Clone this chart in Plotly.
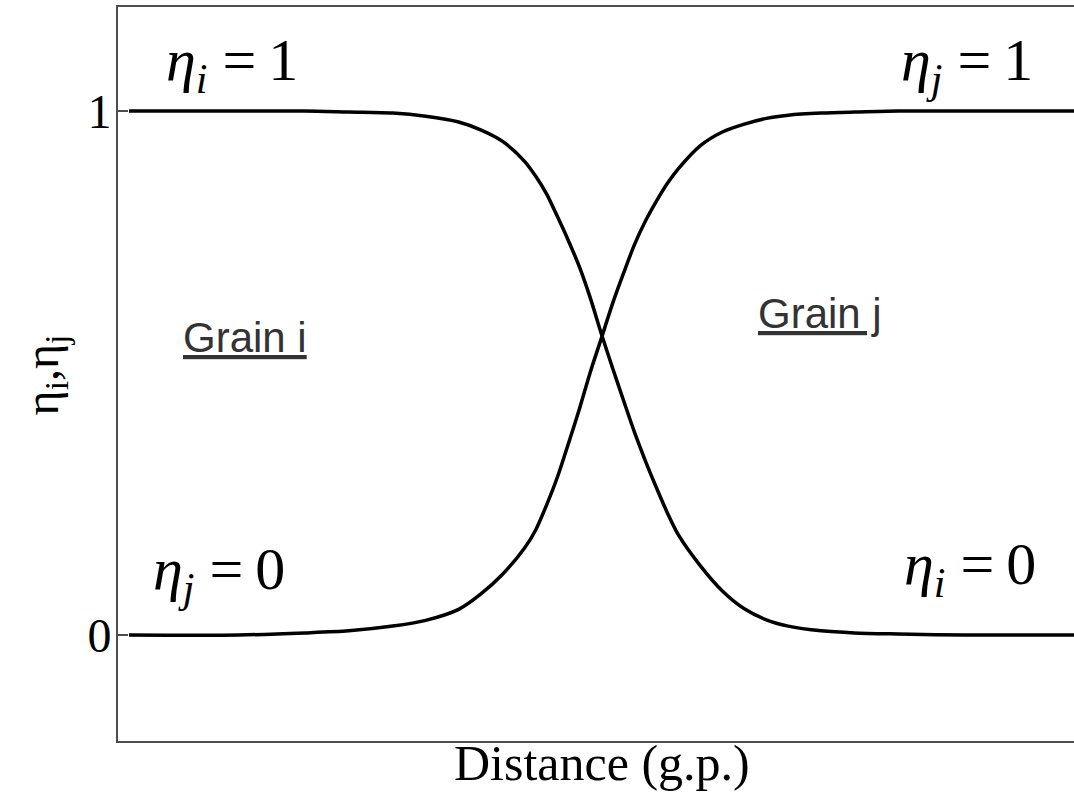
import plotly.graph_objects as go

# Order-parameter profiles across a grain boundary (distance in grid points)
distance = [0, 10, 16, 20, 24, 27, 30, 32, 34, 36, 37, 38, 39, 40, 41, 42, 43,
            44, 45, 46, 47, 48, 49, 50, 52, 54, 56, 58, 60, 63, 66, 70, 76, 86]

eta_i = [1.0, 1.0, 1.0, 0.998, 0.996, 0.990, 0.979, 0.964, 0.942, 0.904, 0.876,
         0.842, 0.798, 0.752, 0.702, 0.642, 0.574, 0.510, 0.448, 0.387, 0.332,
         0.281, 0.233, 0.191, 0.132, 0.084, 0.050, 0.029, 0.017, 0.008, 0.004,
         0.002, 0.0, 0.0]

eta_j = [0.0, 0.0, 0.004, 0.008, 0.017, 0.028, 0.049, 0.078, 0.116, 0.166, 0.200,
         0.248, 0.302, 0.366, 0.432, 0.503, 0.567, 0.632, 0.690, 0.745, 0.790,
         0.828, 0.862, 0.890, 0.934, 0.960, 0.975, 0.986, 0.992, 0.996, 0.998,
         1.0, 1.0, 1.0]

y_ticks = [0, 1]
y_ticktext = ["0", "1"]

SERIF = "Times New Roman, Liberation Serif, serif"
SANS = "Arial, Liberation Sans, sans-serif"
THIN = "\u2009"

fig = go.Figure()
for name, vals in (("η_i", eta_i), ("η_j", eta_j)):
    fig.add_trace(go.Scatter(
        x=distance, y=vals, mode="lines", name=name,
        line=dict(color="black", width=3.5, shape="spline", smoothing=0.8),
        showlegend=False, hoverinfo="skip",
    ))

# Phase labels
labels = [
    (9.4, 1.088, "<i>η</i><sub><i>i</i></sub> =" + THIN + "1"),
    (76.3, 1.088, "<i>η</i><sub><i>j</i></sub> =" + THIN + "1"),
    (8.2, 0.118, "<i>η</i><sub><i>j</i></sub> =" + THIN + "0"),
    (76.5, 0.126, "<i>η</i><sub><i>i</i></sub> =" + THIN + "0"),
]
for x, y, t in labels:
    fig.add_annotation(x=x, y=y, text=t, showarrow=False,
                       xanchor="center", yanchor="middle",
                       font=dict(family=SERIF, size=60, color="black"))

# Grain region labels
for x, y, t in ((10.6, 0.567, "Grain i"), (62.9, 0.614, "Grain j")):
    fig.add_annotation(x=x, y=y, text="<u>" + t + "</u>", showarrow=False,
                       xanchor="center", yanchor="middle",
                       font=dict(family=SANS, size=42, color="#333333"))

# Axis titles
fig.add_annotation(xref="paper", yref="paper", x=0.506, y=-0.030,
                   text="Distance (g.p.)", showarrow=False,
                   xanchor="center", yanchor="middle",
                   font=dict(family=SERIF, size=50, color="black"))
fig.add_annotation(xref="paper", yref="y", x=-0.076, y=0.496,
                   text="η<sub>i</sub>,η<sub>j</sub>", showarrow=False,
                   textangle=-90, xanchor="center", yanchor="middle",
                   font=dict(family=SERIF, size=48, color="black"))

fig.update_layout(
    width=1074, height=803,
    margin=dict(l=118, r=0, t=7, b=62),
    paper_bgcolor="white", plot_bgcolor="white",
    xaxis=dict(range=[-1.0, 86.0], showgrid=False, zeroline=False,
               showticklabels=False, ticks="",
               showline=True, linecolor="#4d4d4d", linewidth=2, mirror=True),
    yaxis=dict(range=[-0.2023, 1.1985], showgrid=False, zeroline=False,
               tickvals=y_ticks, ticktext=y_ticktext,
               ticks="inside", ticklen=10, tickwidth=1.5, tickcolor="#4d4d4d",
               ticklabelstandoff=-5,
               tickfont=dict(family=SERIF, size=48, color="black"),
               showline=True, linecolor="#4d4d4d", linewidth=2),
)

fig.write_html("out.html")
